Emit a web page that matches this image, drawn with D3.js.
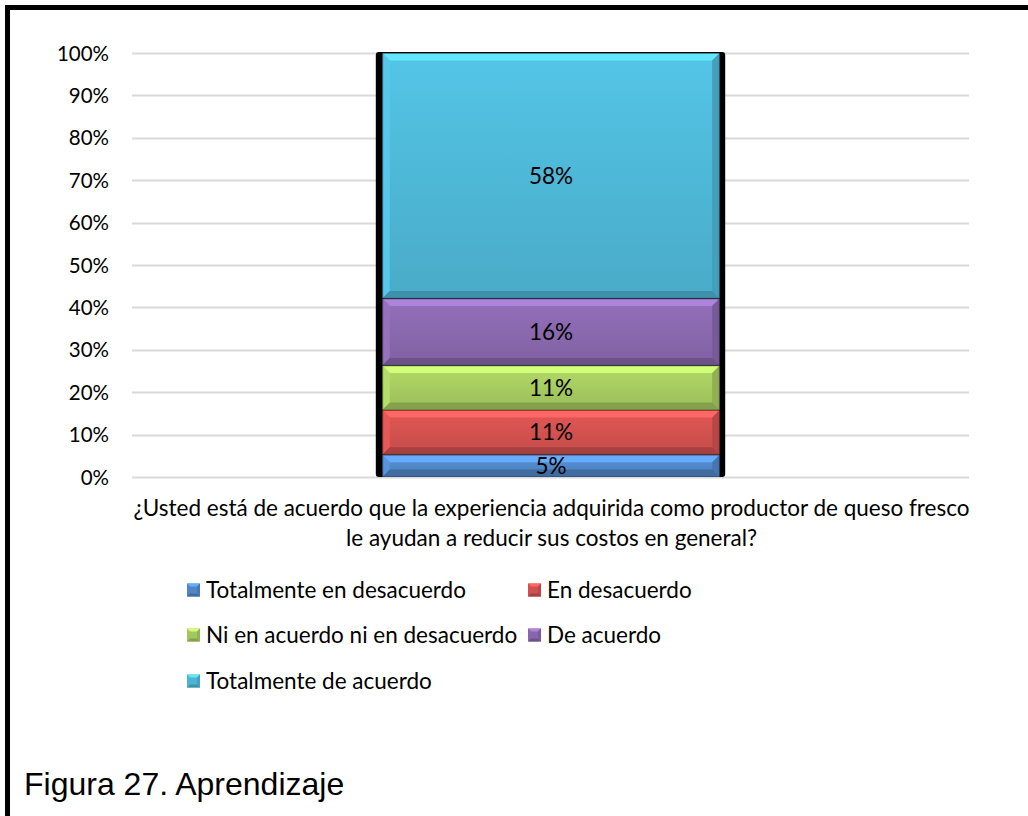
<!DOCTYPE html>
<html>
<head>
<meta charset="utf-8">
<script src="https://cdn.jsdelivr.net/npm/d3@7/dist/d3.min.js"></script>
<style>
  html, body { margin: 0; padding: 0; background: #fff; }
  svg { display: block; }
  text { font-family: Lato, "Open Sans", sans-serif; fill: #000; }
</style>
</head>
<body>
<svg id="chart" width="1028" height="816"></svg>
<script>
// Survey answers (share of respondents) for the single question
const category = "¿Usted está de acuerdo que la experiencia adquirida como productor de queso fresco le ayudan a reducir sus costos en general?";
const categoryLines = [
  "¿Usted está de acuerdo que la experiencia adquirida como productor de queso fresco",
  "le ayudan a reducir sus costos en general?"
];
const seriesNames = [
  "Totalmente en desacuerdo",
  "En desacuerdo",
  "Ni en acuerdo ni en desacuerdo",
  "De acuerdo",
  "Totalmente de acuerdo"
];
const seriesValues = [0.0526, 0.1053, 0.1053, 0.1579, 0.5789];
const yTicks = [0, 0.1, 0.2, 0.3, 0.4, 0.5, 0.6, 0.7, 0.8, 0.9, 1.0];
const caption = "Figura 27. Aprendizaje";

const baseColors = ["#4f86c6", "#cf504e", "#a3c75e", "#8766ab", "#4db4d3"];

const svg = d3.select("#chart");
const W = 1028, H = 816;
const FS = 22.5;

// Frame: heavy rule along the top and the left side
svg.append("rect").attr("x", 5).attr("y", 5).attr("width", W - 5).attr("height", 5).attr("fill", "#000");
svg.append("rect").attr("x", 5).attr("y", 5).attr("width", 5).attr("height", H - 5).attr("fill", "#000");

const plot = { left: 132, right: 969, top: 53, bottom: 477 };

const y = d3.scaleLinear().domain([0, 1]).range([plot.bottom, plot.top]);
const x = d3.scaleBand().domain([category]).range([plot.left, plot.right]).padding(0.411);

// Gridlines
svg.append("g").selectAll("line").data(yTicks).join("line")
  .attr("x1", plot.left).attr("x2", plot.right)
  .attr("y1", d => Math.round(y(d)) + 0.5).attr("y2", d => Math.round(y(d)) + 0.5)
  .attr("stroke", "#d9d9d9").attr("stroke-width", 2);

// Y axis labels
const yAxis = d3.axisLeft(y).tickValues(yTicks).tickFormat(d3.format(".0%")).tickSize(0).tickPadding(0);
const gy = svg.append("g").attr("transform", `translate(109,0)`).call(yAxis);
gy.select(".domain").remove();
gy.selectAll("text").attr("font-family", "Lato, sans-serif").attr("font-size", 20.5).attr("fill", "#000").attr("dy", "0.35em");

// Stack layout
const stacked = [];
let acc = 0;
seriesValues.forEach((v, i) => { stacked.push({ i, v, y0: acc, y1: acc + v }); acc += v; });

const bx0 = x(category), bw = x.bandwidth();
const inL = 7, inR = 6;

// Dark backing behind the column (shows as side edges)
svg.append("rect")
  .attr("x", bx0).attr("y", y(1) - 1)
  .attr("width", bw).attr("height", y(0) - y(1) + 1)
  .attr("rx", 3).attr("fill", "#000");

const defs = svg.append("defs");
stacked.forEach(d => {
  const c = d3.color(baseColors[d.i]);
  const g = defs.append("linearGradient").attr("id", "g" + d.i)
    .attr("x1", 0).attr("x2", 0).attr("y1", 0).attr("y2", 1);
  g.append("stop").attr("offset", 0).attr("stop-color", c.brighter(0.25));
  g.append("stop").attr("offset", 1).attr("stop-color", c.darker(0.15));
});

const segG = svg.append("g");
stacked.forEach(d => {
  const x0 = bx0 + inL, x1 = bx0 + bw - inR;
  const yt = y(d.y1) + 0.5, yb = y(d.y0) - 0.5;
  const b = Math.min(7, (yb - yt) / 2);
  const c = d3.color(baseColors[d.i]);
  const g = segG.append("g");
  g.append("rect").attr("x", x0).attr("y", yt).attr("width", x1 - x0).attr("height", yb - yt)
    .attr("fill", `url(#g${d.i})`);
  // bevel faces
  const faces = [
    { pts: [[x0, yt], [x1, yt], [x1 - b, yt + b], [x0 + b, yt + b]], col: c.brighter(0.7) },
    { pts: [[x0, yt], [x0 + b, yt + b], [x0 + b, yb - b], [x0, yb]], col: c.brighter(0.3) },
    { pts: [[x1, yt], [x1, yb], [x1 - b, yb - b], [x1 - b, yt + b]], col: c.darker(0.35) },
    { pts: [[x0, yb], [x0 + b, yb - b], [x1 - b, yb - b], [x1, yb]], col: c.darker(0.6) }
  ];
  faces.forEach(f => {
    g.append("polygon").attr("points", f.pts.map(p => p.join(",")).join(" ")).attr("fill", f.col);
  });
  g.append("rect").attr("x", x0).attr("y", yt).attr("width", x1 - x0).attr("height", yb - yt)
    .attr("fill", "none").attr("stroke", c.darker(1.2)).attr("stroke-opacity", 0.6).attr("stroke-width", 1);
});

// Value labels
svg.append("g").selectAll("text").data(stacked).join("text")
  .attr("x", bx0 + bw / 2 + 0.5)
  .attr("y", d => (y(d.y0) + y(d.y1)) / 2)
  .attr("dy", "0.36em")
  .attr("text-anchor", "middle")
  .attr("font-size", FS)
  .text(d => d3.format(".0%")(d.v));

// Category label (two lines)
svg.append("g").selectAll("text").data(categoryLines).join("text")
  .attr("x", (plot.left + plot.right) / 2 + 1)
  .attr("y", (d, i) => 516 + i * 30)
  .attr("text-anchor", "middle")
  .attr("font-size", FS)
  .text(d => d);

// Legend
const legendPos = [
  { x: 187, y: 590 }, { x: 528, y: 590 },
  { x: 187, y: 635 }, { x: 528, y: 635 },
  { x: 187, y: 681 }
];
const lg = svg.append("g").selectAll("g").data(seriesNames).join("g")
  .attr("transform", (d, i) => `translate(${legendPos[i].x},${legendPos[i].y})`);
lg.each(function (d, i) {
  const g = d3.select(this);
  const c = d3.color(baseColors[i]);
  const s = 13, b = 3, t = -6.5;
  g.append("rect").attr("x", 0).attr("y", t).attr("width", s).attr("height", s).attr("fill", c);
  g.append("polygon").attr("points", `0,${t} ${s},${t} ${s - b},${t + b} ${b},${t + b}`).attr("fill", c.brighter(0.7));
  g.append("polygon").attr("points", `0,${t + s} ${b},${t + s - b} ${s - b},${t + s - b} ${s},${t + s}`).attr("fill", c.darker(0.6));
  g.append("polygon").attr("points", `${s},${t} ${s},${t + s} ${s - b},${t + s - b} ${s - b},${t + b}`).attr("fill", c.darker(0.3));
  g.append("text").attr("x", s + 6).attr("y", 0).attr("dy", "0.36em")
    .attr("font-size", FS).text(d);
});

// Figure caption
svg.append("text")
  .attr("x", 24).attr("y", 795)
  .style("font-family", "'Liberation Sans', Arial, sans-serif")
  .attr("font-size", 32)
  .text(caption);
</script>
</body>
</html>
